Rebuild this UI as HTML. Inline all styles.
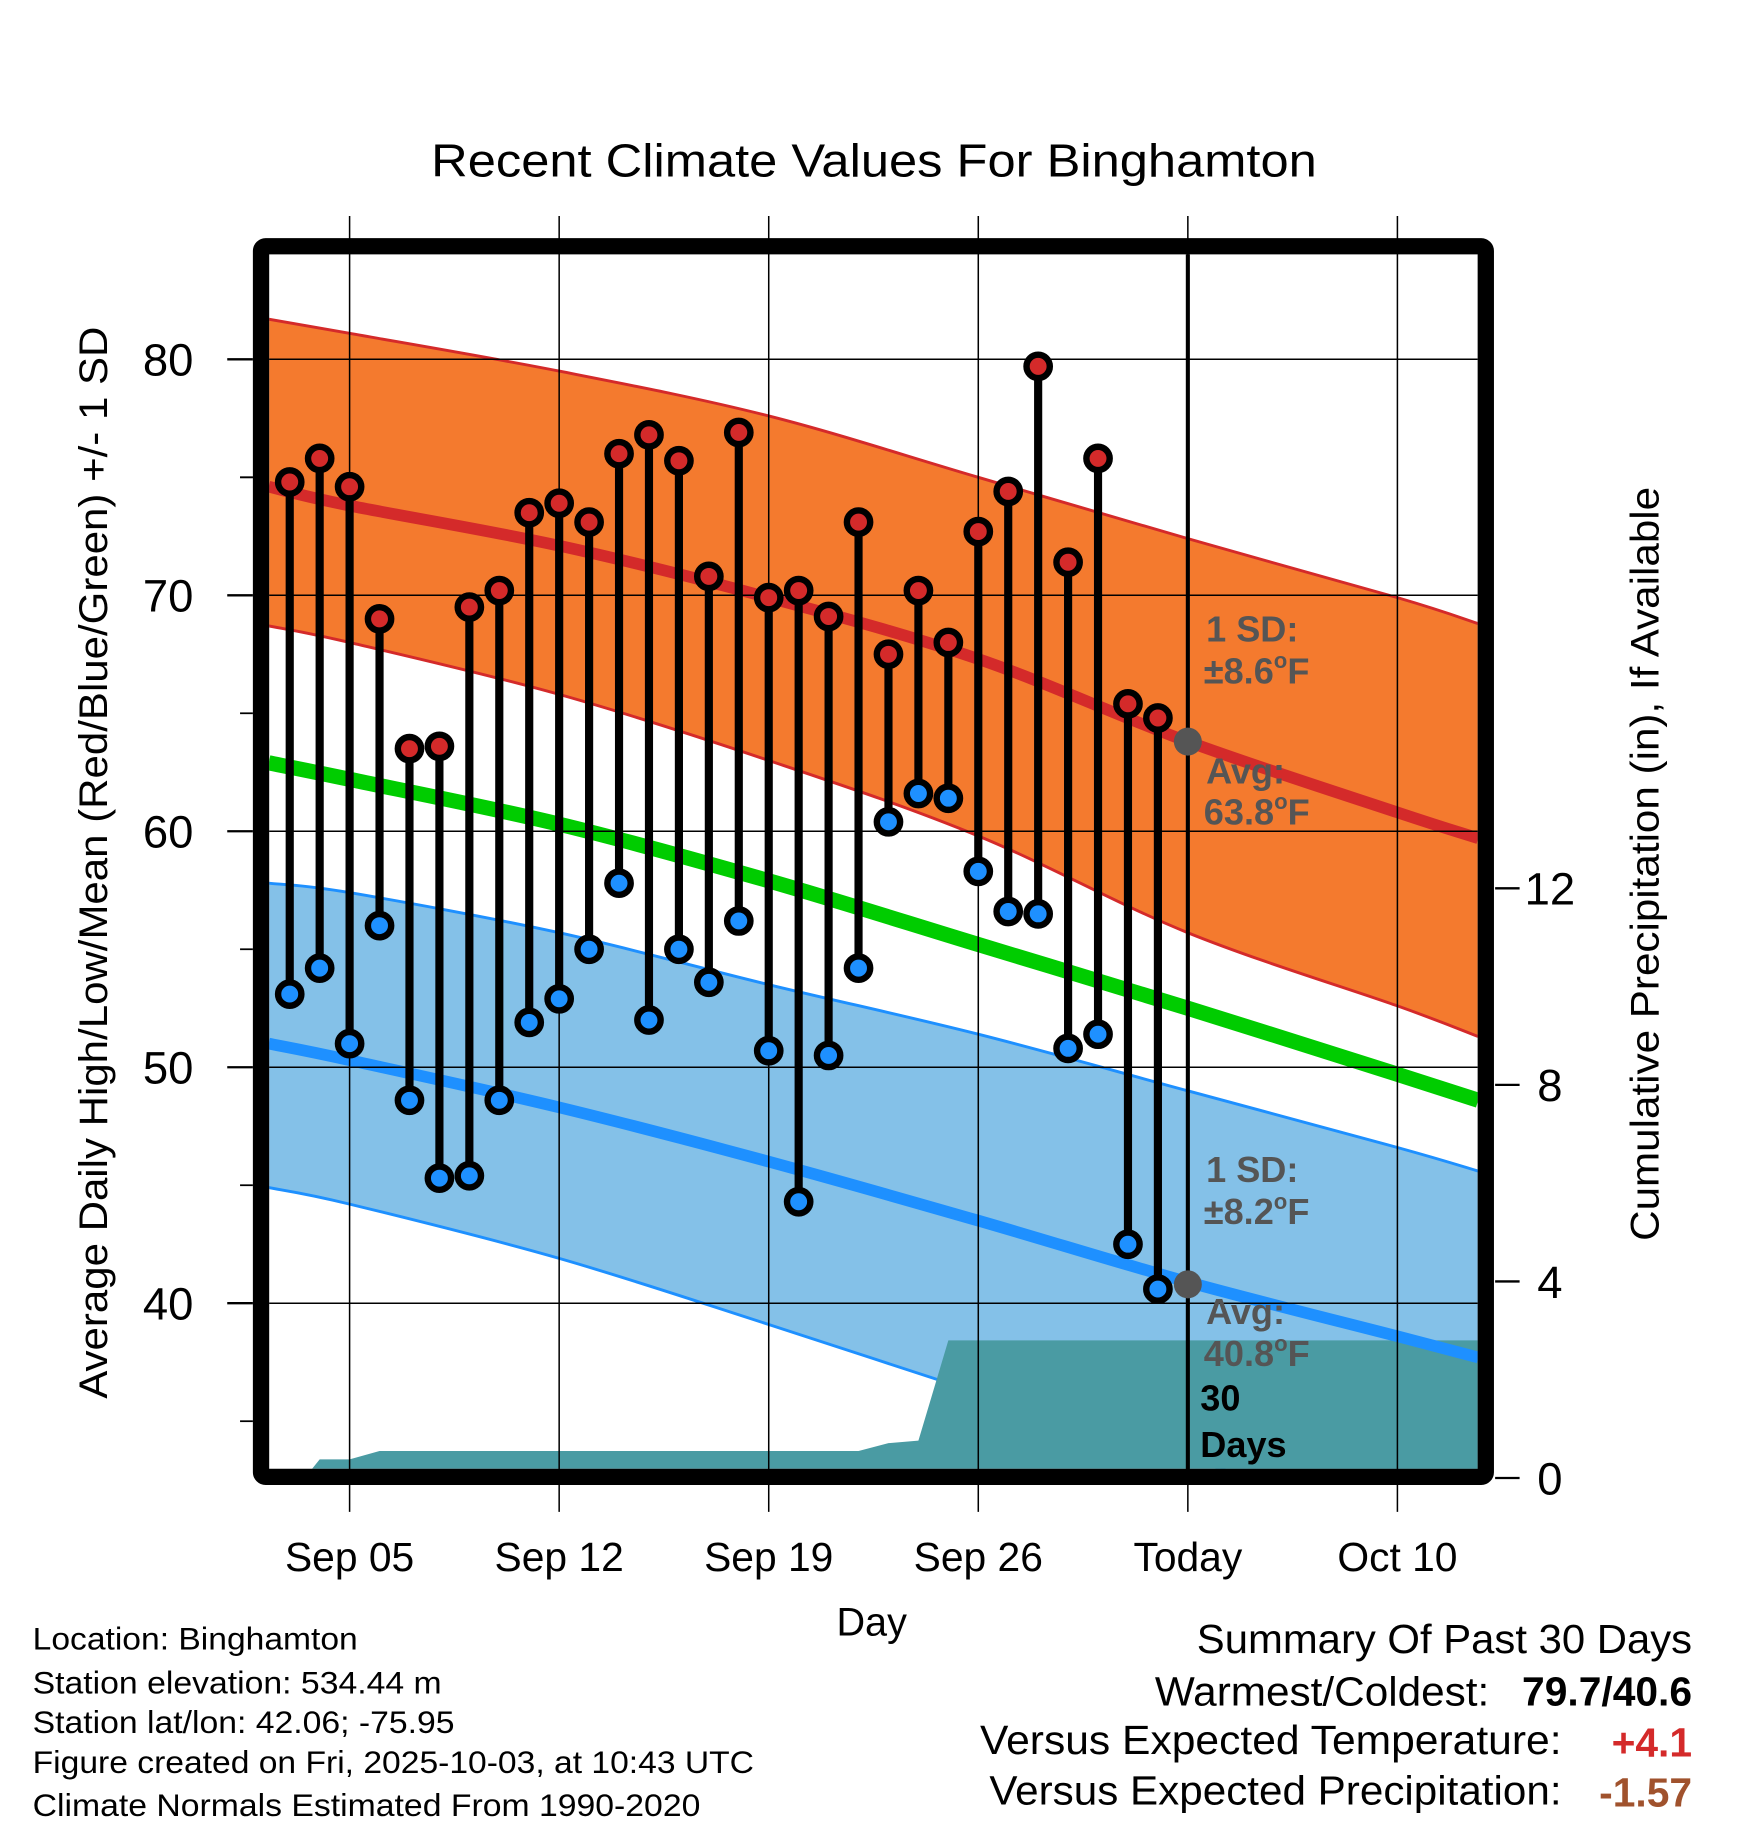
<!DOCTYPE html>
<html><head><meta charset="utf-8"><style>
html,body{margin:0;padding:0;background:#fff}
svg{display:block;font-family:"Liberation Sans",sans-serif}
</style></head><body>
<svg id="chart" width="1748" height="1828" viewBox="0 0 1500 1568" xmlns="http://www.w3.org/2000/svg">
<defs><clipPath id="plotclip"><rect x="231" y="218" width="1037" height="1042"/></clipPath></defs>
<text x="750" y="151" font-size="40" text-anchor="middle" textLength="760" lengthAdjust="spacingAndGlyphs">Recent Climate Values For Binghamton</text>
<g id="plot" clip-path="url(#plotclip)"></g>
<g id="over"></g>
<text transform="translate(92,740) rotate(-90)" font-size="34" text-anchor="middle" textLength="920" lengthAdjust="spacingAndGlyphs">Average Daily High/Low/Mean (Red/Blue/Green) +/- 1 SD</text>
<text transform="translate(1423,741) rotate(-90)" font-size="34" text-anchor="middle" textLength="647" lengthAdjust="spacingAndGlyphs">Cumulative Precipitation (in), If Available</text>
<text x="748" y="1403" font-size="34" text-anchor="middle">Day</text>
<g font-size="27">
<text x="28" y="1415" textLength="279" lengthAdjust="spacingAndGlyphs">Location: Binghamton</text>
<text x="28" y="1453" textLength="351" lengthAdjust="spacingAndGlyphs">Station elevation: 534.44 m</text>
<text x="28" y="1487" textLength="362" lengthAdjust="spacingAndGlyphs">Station lat/lon: 42.06; -75.95</text>
<text x="28" y="1521" textLength="619" lengthAdjust="spacingAndGlyphs">Figure created on Fri, 2025-10-03, at 10:43 UTC</text>
<text x="28" y="1558" textLength="573" lengthAdjust="spacingAndGlyphs">Climate Normals Estimated From 1990-2020</text>
</g>
<g font-size="35">
<text x="1027" y="1418" textLength="425" lengthAdjust="spacingAndGlyphs">Summary Of Past 30 Days</text>
<text x="991" y="1463" textLength="287" lengthAdjust="spacingAndGlyphs">Warmest/Coldest:</text>
<text x="1452" y="1463" text-anchor="end" font-weight="bold">79.7/40.6</text>
<text x="841" y="1505" textLength="499" lengthAdjust="spacingAndGlyphs">Versus Expected Temperature:</text>
<text x="1452" y="1507" text-anchor="end" font-weight="bold" fill="#d42a2a">+4.1</text>
<text x="849" y="1548" textLength="491" lengthAdjust="spacingAndGlyphs">Versus Expected Precipitation:</text>
<text x="1452" y="1550" text-anchor="end" font-weight="bold" fill="#a0522d">-1.57</text>
</g>
</svg>
<script>
// ---- data ----
const obsDays = [3,4,5,6,7,8,9,10,11,12,13,14,15,16,17,18,19,20,21,22,23,24,25,26,27,28,29,30,31,32];
const highs = [74.8,75.8,74.6,69.0,63.5,63.6,69.5,70.2,73.5,73.9,73.1,76.0,76.8,75.7,70.8,76.9,69.9,70.2,69.1,73.1,67.5,70.2,68.0,72.7,74.4,79.7,71.4,75.8,65.4,64.8];
const lows = [53.1,54.2,51.0,56.0,48.6,45.3,45.4,48.6,51.9,52.9,55.0,57.8,52.0,55.0,53.6,56.2,50.7,44.3,50.5,54.2,60.4,61.6,61.4,58.3,56.6,56.5,50.8,51.4,42.5,40.6];
const precipCum = [0,0.38,0.38,0.55,0.55,0.55,0.55,0.55,0.55,0.55,0.55,0.55,0.55,0.55,0.55,0.55,0.55,0.55,0.55,0.55,0.71,0.76,2.8,2.8,2.8,2.8,2.8,2.8,2.8,2.8];
const normDays = [2.3,5,12,19,26,33,40,42.7];
const normHigh = [74.6,73.8,72.1,69.9,67.3,63.8,60.8,59.7];
const normHighUp = [81.7,81.1,79.5,77.6,75.0,72.4,69.9,68.8];
const normHighLo = [68.7,68.0,65.8,63.0,59.8,55.7,52.6,51.3];
const normMean = [62.9,62.2,60.3,57.9,55.2,52.5,49.7,48.6];
const normLow = [51.0,50.3,48.3,46.0,43.5,40.9,38.6,37.7];
const normLowUp = [57.8,57.4,55.7,53.5,51.4,49.0,46.6,45.6];
const normLowLo = [44.9,44.2,41.9,39.1,36.2,33.4,30.8,29.8];
const xTickDays = [5,12,19,26,33,40];
const xTickLabels = ["Sep 05","Sep 12","Sep 19","Sep 26","Today","Oct 10"];
const yTicks = [40,50,60,70,80];
const y2Ticks = [0,4,8,12];
const todayDay = 33;
const todayHigh = 63.8, todayLow = 40.8;
// ---- axes ----
const X = d => 300 + (d-5)*25.69;
const Y = v => 308 + (80-v)*20.25;
const Y2 = p => 1268 - p*42.17;
const NS="http://www.w3.org/2000/svg";
function mk(parent,tag,attrs){const e=document.createElementNS(NS,tag);for(const k in attrs)e.setAttribute(k,attrs[k]);parent.appendChild(e);return e;}
const plot=document.getElementById('plot'), over=document.getElementById('over');
function smooth(days,vals,rev){
  let p=days.map((t,i)=>[X(t),Y(vals[i])]);
  if(rev)p=p.reverse();
  let d="";
  for(let i=0;i<p.length-1;i++){
    const p0=p[i-1]||p[i],p1=p[i],p2=p[i+1],p3=p[i+2]||p2;
    const c1=[p1[0]+(p2[0]-p0[0])/6,p1[1]+(p2[1]-p0[1])/6];
    const c2=[p2[0]-(p3[0]-p1[0])/6,p2[1]-(p3[1]-p1[1])/6];
    d+=" C"+c1.join(",")+" "+c2.join(",")+" "+p2.join(",");
  }
  return {start:p[0],d:d};
}
function band(up,lo,fill,stroke,name){
  const a=smooth(normDays,up,false), b=smooth(normDays,lo,true);
  const e=mk(plot,'path',{d:"M"+a.start.join(",")+a.d+" L"+b.start.join(",")+b.d+" Z",fill:fill});
  
  
  [up,lo].forEach(arr=>{const s=smooth(normDays,arr,false);
    const l=mk(plot,'path',{d:"M"+s.start.join(",")+s.d,fill:"none",stroke:stroke,"stroke-width":2.5});
    
    });
}
function line(arr,color,w,name){const s=smooth(normDays,arr,false);
  const l=mk(plot,'path',{d:"M"+s.start.join(",")+s.d,fill:"none",stroke:color,"stroke-width":w});
  
  }
band(normHighUp,normHighLo,"#f47a2e","#d42a2a","high-sd-band");
band(normLowUp,normLowLo,"#84c1e8","#1e90ff","low-sd-band");
let pd="M"+X(obsDays[0]+0.5)+","+Y2(0);
obsDays.forEach((d,i)=>{ if(i>0) pd+=" L"+X(d)+","+Y2(precipCum[i]);});
pd+=" L1270,"+Y2(precipCum[precipCum.length-1])+" L1270,1270 L"+X(obsDays[0]+0.5)+",1270 Z";
const pr=mk(plot,'path',{d:pd,fill:"#4a9ba3"});


line(normHigh,"#d42a2a",10,"normal-high-line");
line(normMean,"#00cc00",13,"normal-mean-line");
line(normLow,"#1e90ff",10,"normal-low-line");
yTicks.forEach(v=>{const g=mk(over,'line',{x1:231,x2:1268,y1:Y(v),y2:Y(v),stroke:"#000","stroke-width":1.3});
  
  
  const t=mk(over,'line',{x1:195,x2:217,y1:Y(v),y2:Y(v),stroke:"#000","stroke-width":2});
  
  
  const m=mk(over,'line',{x1:206,x2:217,y1:Y(v-5),y2:Y(v-5),stroke:"#000","stroke-width":1.5});
  
  
  const lb=mk(over,'text',{x:166,y:Y(v)+14,"font-size":39,"text-anchor":"end"});lb.textContent=v;
  
  });
{const m=mk(over,'line',{x1:206,x2:217,y1:Y(75),y2:Y(75),stroke:"#000","stroke-width":1.5});
 
 }
xTickDays.forEach((d,i)=>{const g=mk(over,'line',{x1:X(d),x2:X(d),y1:185,y2:1297,stroke:"#000","stroke-width":1.3});
  
  
  const lb=mk(over,'text',{x:X(d),y:1348,"font-size":35,"text-anchor":"middle"});lb.textContent=xTickLabels[i];
  
  });
y2Ticks.forEach(p=>{const t=mk(over,'line',{x1:1283,x2:1304,y1:Y2(p),y2:Y2(p),stroke:"#000","stroke-width":2});
  
  
  const lb=mk(over,'text',{x:1330,y:Y2(p)+14,"font-size":39,"text-anchor":"middle"});lb.textContent=p;
  
  });
const tl=mk(over,'line',{x1:X(todayDay),x2:X(todayDay),y1:218,y2:1262,stroke:"#000","stroke-width":3.5});


function ann(txt,x,y,col){const t=mk(over,'text',{x:x,y:y,"font-size":31,"font-weight":"bold",fill:col});t.innerHTML=txt;
  
  }
const sup='<tspan dy="-13" font-size="19">o</tspan><tspan dy="13">F</tspan>';
ann("1 SD:",1035,550,"#555");ann("±8.6"+sup,1033,586,"#555");
ann("Avg:",1035,672,"#555");ann("63.8"+sup,1033,707,"#555");
ann("1 SD:",1035,1014,"#555");ann("±8.2"+sup,1033,1050,"#555");
ann("Avg:",1035,1136,"#555");ann("40.8"+sup,1033,1172,"#555");
ann("30",1030,1210,"#000");ann("Days",1030,1250,"#000");
obsDays.forEach((d,i)=>{
  const s=mk(over,'line',{x1:X(d),x2:X(d),y1:Y(highs[i]),y2:Y(lows[i]),stroke:"#000","stroke-width":7});
  
  
  const h=mk(over,'circle',{cx:X(d),cy:Y(highs[i]),r:10,fill:"#d42a2a",stroke:"#000","stroke-width":5.5});
  
  
  const l=mk(over,'circle',{cx:X(d),cy:Y(lows[i]),r:10,fill:"#1e90ff",stroke:"#000","stroke-width":5.5});
  
  
});
[todayHigh,todayLow].forEach(v=>{const c=mk(over,'circle',{cx:X(todayDay),cy:Y(v),r:12,fill:"#555"});
  
  });
const fr=mk(over,'rect',{x:224,y:211,width:1051,height:1056,fill:"none",stroke:"#000","stroke-width":14,rx:4});


</script>
</body></html>
